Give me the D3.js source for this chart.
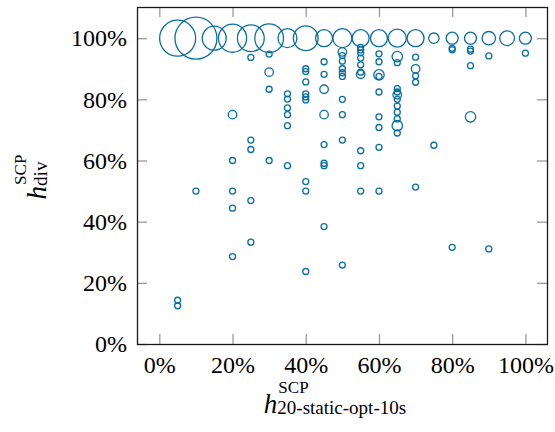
<!DOCTYPE html>
<html><head><meta charset="utf-8">
<script src="https://cdn.jsdelivr.net/npm/d3@7"></script>
<style>
body{margin:0;background:#fff}
svg{display:block}
</style>
</head><body>
<svg id="chart" width="555" height="432"></svg>
<script>
// ---- data ----
const xTicks = [0, 20, 40, 60, 80, 100];
const yTicks = [0, 20, 40, 60, 80, 100];

// x value (%) of every marker
const pointX = [
  5,10,15,20,25,30,35,40,45,50,55,60,65,70,75,80,85,90,95,100,
  5,5,
  10,
  20,20,20,20,20,
  25,25,25,25,25,
  30,30,30,30,
  35,35,35,35,35,35,
  40,40,40,40,40,40,40,40,40,
  45,45,45,45,45,45,45,45,
  50,50,50,50,50,50,50,50,50,50,
  55,55,55,55,55,55,55,55,55,55,
  60,60,60,60,60,60,60,60,60,
  65,65,65,65,65,65,65,65,65,65,65,
  70,70,70,70,70,
  75,
  80,80,80,
  85,85,85,85,
  90,90,
  100
];
// y value (%) of every marker
const pointY = [
  100,100,100,100,100,100,100,100,100,100,100,100,100,100,100,100,100,100,100,100,
  14.3,12.5,
  50,
  75,60,50,44.4,28.6,
  93.7,66.7,63.6,46.9,33.3,
  94.8,88.9,83.3,60,
  81.8,80.1,77.2,75,71.4,58.3,
  90,89.1,85.7,81.8,80.8,79.8,53.1,50,23.7,
  92.3,88.2,83.3,75,65.2,59.1,58.3,38.4,
  95.5,94.3,92.5,90,88.7,87.5,80,75,66.7,25.8,
  97,96.2,95.2,93.5,91.3,88.9,88.2,63.2,58.3,50,
  94.9,92.3,88,87.5,82.4,74.3,70.8,64.3,50,
  94,92,83.5,82.4,81.5,80,77.8,75.8,73.6,71.4,69,
  93.8,90,87.7,85.6,51.3,
  65,
  96.7,96.2,31.6,
  96.4,95.8,91,74.3,
  94.2,31.1,
  95.1
];
// number of instances behind each marker
const pointCount = [
  36,49,16,22,20,23,10,17,8,10,8,8,9,8,3,4,4,5,6,4,
  1,1,
  1,
  2,1,1,1,1,
  1,1,1,1,1,
  1,2,1,1,
  1,1,1,1,1,1,
  1,1,1,1,1,1,1,1,1,
  1,1,2,2,1,1,1,1,
  2,1,1,1,1,1,1,1,1,1,
  1,1,1,1,1,1,2,1,1,1,
  1,1,3,1,1,1,1,1,1,
  3,1,1,1,2,1,1,1,1,3,1,
  1,2,1,1,1,
  1,
  1,1,1,
  1,1,1,3,
  1,1,
  1
];

// ---- layout ----
const W = 555, H = 432;
const m = {left: 137, right: 8, top: 7, bottom: 88};
const iw = W - m.left - m.right, ih = H - m.top - m.bottom;
const color = "#0a6fa3";
const serif = '"Liberation Serif","Times New Roman",serif';

const svg = d3.select("#chart");
const g = svg.append("g").attr("transform", `translate(${m.left},${m.top})`);

const x = d3.scaleLinear().domain([-6.1, 105.9]).range([0, iw]);
const y = d3.scaleLinear().domain([0, 110.2]).range([ih, 0]);
const r = d3.scaleSqrt().domain([0, 49]).range([0, 21]);

const fmt = d => d + "%";
const tickLen = 10;

function styleAxis(sel, labels) {
  sel.attr("font-family", serif);
  sel.select(".domain").remove();
  sel.selectAll(".tick line").attr("stroke", "#9a9a9a").attr("stroke-width", 1.3);
  if (!labels) sel.selectAll(".tick text").remove();
  else sel.selectAll(".tick text")
    .style("font-family", serif).style("font-size", "24px").attr("fill", "#000");
}

g.append("g").attr("transform", `translate(0,${ih})`)
  .call(d3.axisBottom(x).tickValues(xTicks).tickFormat(fmt).tickSizeInner(-tickLen).tickSizeOuter(0).tickPadding(12))
  .call(s => styleAxis(s, true));
g.append("g")
  .call(d3.axisTop(x).tickValues(xTicks).tickSizeInner(-tickLen).tickSizeOuter(0))
  .call(s => styleAxis(s, false));
g.append("g")
  .call(d3.axisLeft(y).tickValues(yTicks).tickFormat(fmt).tickSizeInner(-tickLen).tickSizeOuter(0).tickPadding(10))
  .call(s => styleAxis(s, true));
g.append("g").attr("transform", `translate(${iw},0)`)
  .call(d3.axisRight(y).tickValues(yTicks).tickSizeInner(-tickLen).tickSizeOuter(0))
  .call(s => styleAxis(s, false));

// frame
g.append("rect").attr("x", 0.5).attr("y", 0.5).attr("width", iw).attr("height", ih)
  .attr("fill", "none").attr("stroke", "#1a1a1a").attr("stroke-width", 1.3);

// markers
g.append("g").selectAll("circle")
  .data(pointX.map((d, i) => ({x: d, y: pointY[i], n: pointCount[i]})))
  .join("circle")
  .attr("cx", d => x(d.x))
  .attr("cy", d => y(d.y))
  .attr("r", d => r(d.n))
  .attr("fill", "none")
  .attr("stroke", color)
  .attr("stroke-width", 1.3);

// axis titles: h^{SCP}_{sub}
function mathLabel(parent, sub) {
  const lg = parent.append("g").attr("font-family", serif);
  const h = lg.append("text").attr("x", 0).attr("y", 0)
    .style("font-family", serif).style("font-size", "27px").style("font-style", "italic").text("h");
  const hw = h.node().getComputedTextLength();
  const sup = lg.append("text").attr("x", hw + 1).attr("y", -20)
    .style("font-family", serif).style("font-size", "17px").text("SCP");
  const sb = lg.append("text").attr("x", hw).attr("y", 1)
    .style("font-family", serif).style("font-size", "19px").text(sub);
  const total = hw + Math.max(sup.node().getComputedTextLength() + 1, sb.node().getComputedTextLength());
  lg.selectAll("text").attr("transform", `translate(${-total / 2},0)`);
  return lg;
}

mathLabel(svg, "20-static-opt-10s").attr("transform", `translate(335,413)`);
mathLabel(svg, "div").attr("transform", `translate(46,177) rotate(-90)`);
</script>
</body></html>
